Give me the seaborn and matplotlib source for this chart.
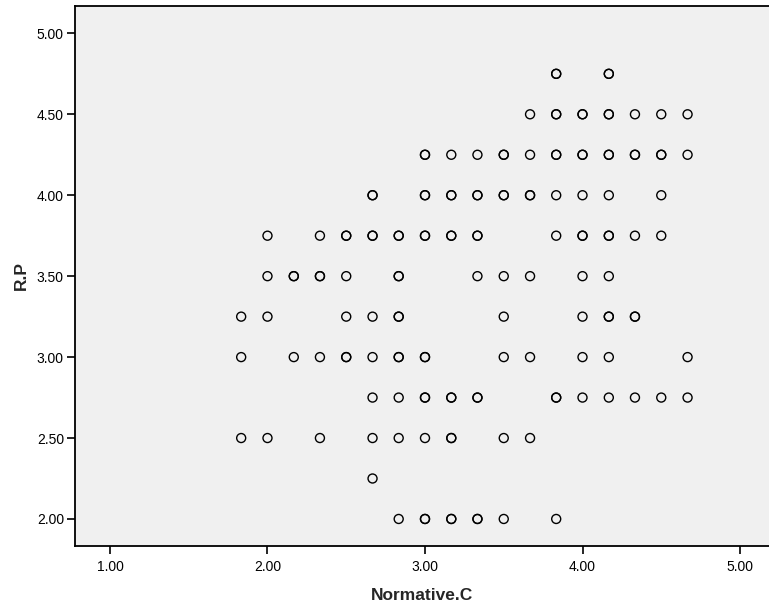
import numpy as np
import pandas as pd
import matplotlib
matplotlib.use("Agg")
import matplotlib.pyplot as plt
import seaborn as sns

# Unique (Normative.C, R.P) combinations and how many cases share each one
normative_c = [
    3.833, 4.167,
    3.667, 3.833, 4.0, 4.167, 4.333, 4.5, 4.667,
    3.0, 3.167, 3.333, 3.5, 3.667, 3.833, 4.0, 4.167, 4.333, 4.5, 4.667,
    2.667, 3.0, 3.167, 3.333, 3.5, 3.667, 3.833, 4.0, 4.167, 4.5,
    2.0, 2.333, 2.5, 2.667, 2.833, 3.0, 3.167, 3.333, 3.833, 4.0, 4.167, 4.333, 4.5,
    2.0, 2.167, 2.333, 2.5, 2.833, 3.333, 3.5, 3.667, 4.0, 4.167,
    1.833, 2.0, 2.5, 2.667, 2.833, 3.5, 4.0, 4.167, 4.333,
    1.833, 2.167, 2.333, 2.5, 2.667, 2.833, 3.0, 3.5, 3.667, 4.0, 4.167, 4.667,
    2.667, 2.833, 3.0, 3.167, 3.333, 3.833, 4.0, 4.167, 4.333, 4.5, 4.667,
    1.833, 2.0, 2.333, 2.667, 2.833, 3.0, 3.167, 3.5, 3.667,
    2.667,
    2.833, 3.0, 3.167, 3.333, 3.5, 3.833,
]
r_p = (
    [4.75] * 2 + [4.5] * 7 + [4.25] * 11 + [4.0] * 10 + [3.75] * 13
    + [3.5] * 10 + [3.25] * 9 + [3.0] * 12 + [2.75] * 11 + [2.5] * 9
    + [2.25] * 1 + [2.0] * 6
)
case_count = [
    2, 2,
    1, 2, 2, 2, 1, 1, 1,
    2, 1, 1, 2, 1, 2, 2, 2, 2, 2, 1,
    2, 2, 2, 2, 2, 2, 1, 1, 1, 1,
    1, 1, 2, 2, 2, 2, 2, 2, 1, 2, 2, 1, 1,
    1, 2, 2, 1, 2, 1, 1, 1, 1, 1,
    1, 1, 1, 1, 2, 1, 1, 2, 2,
    1, 1, 1, 2, 1, 2, 2, 1, 1, 1, 1, 1,
    1, 1, 2, 2, 2, 2, 1, 1, 1, 1, 1,
    1, 1, 1, 1, 1, 1, 2, 1, 1,
    1,
    1, 2, 2, 2, 1, 1,
]

x_ticks = [1.0, 2.0, 3.0, 4.0, 5.0]
y_ticks = [2.0, 2.5, 3.0, 3.5, 4.0, 4.5, 5.0]

df = pd.DataFrame({
    "Normative.C": np.repeat(normative_c, case_count),
    "R.P": np.repeat(r_p, case_count),
})

sns.set_style("white")
plt.rcParams["font.family"] = ["Liberation Sans", "DejaVu Sans"]

fig = plt.figure(figsize=(7.69, 6.12), dpi=100)
ax = fig.add_axes([75 / 769, 1 - 546 / 612, 1 - 75 / 769, 540 / 612])
ax.set_facecolor("#f0f0f0")
fig.patch.set_facecolor("white")

sns.scatterplot(
    data=df, x="Normative.C", y="R.P", ax=ax,
    marker="o", s=42, facecolor="none", edgecolor="black", linewidth=1.0,
)

ax.set_xlim(0.778, 5.184)
ax.set_ylim(1.833, 5.169)
ax.set_xticks(x_ticks)
ax.set_yticks(y_ticks)
ax.set_xticklabels([f"{v:.2f}" for v in x_ticks])
ax.set_yticklabels([f"{v:.2f}" for v in y_ticks])
ax.tick_params(axis="both", direction="out", length=6, width=1.2,
               color="black", labelsize=10, labelcolor="black", pad=2)
ax.tick_params(axis="x", bottom=True, pad=4)
ax.tick_params(axis="y", left=True)

for side in ["left", "bottom", "top"]:
    ax.spines[side].set_visible(True)
    ax.spines[side].set_color("black")
    ax.spines[side].set_linewidth(1.3)
ax.spines["right"].set_visible(False)

ax.set_xlabel("Normative.C", fontsize=12.5, fontweight="bold", labelpad=10)
ax.set_ylabel("R.P", fontsize=12.5, fontweight="bold", labelpad=6)

fig.savefig("out.png", dpi=100)
